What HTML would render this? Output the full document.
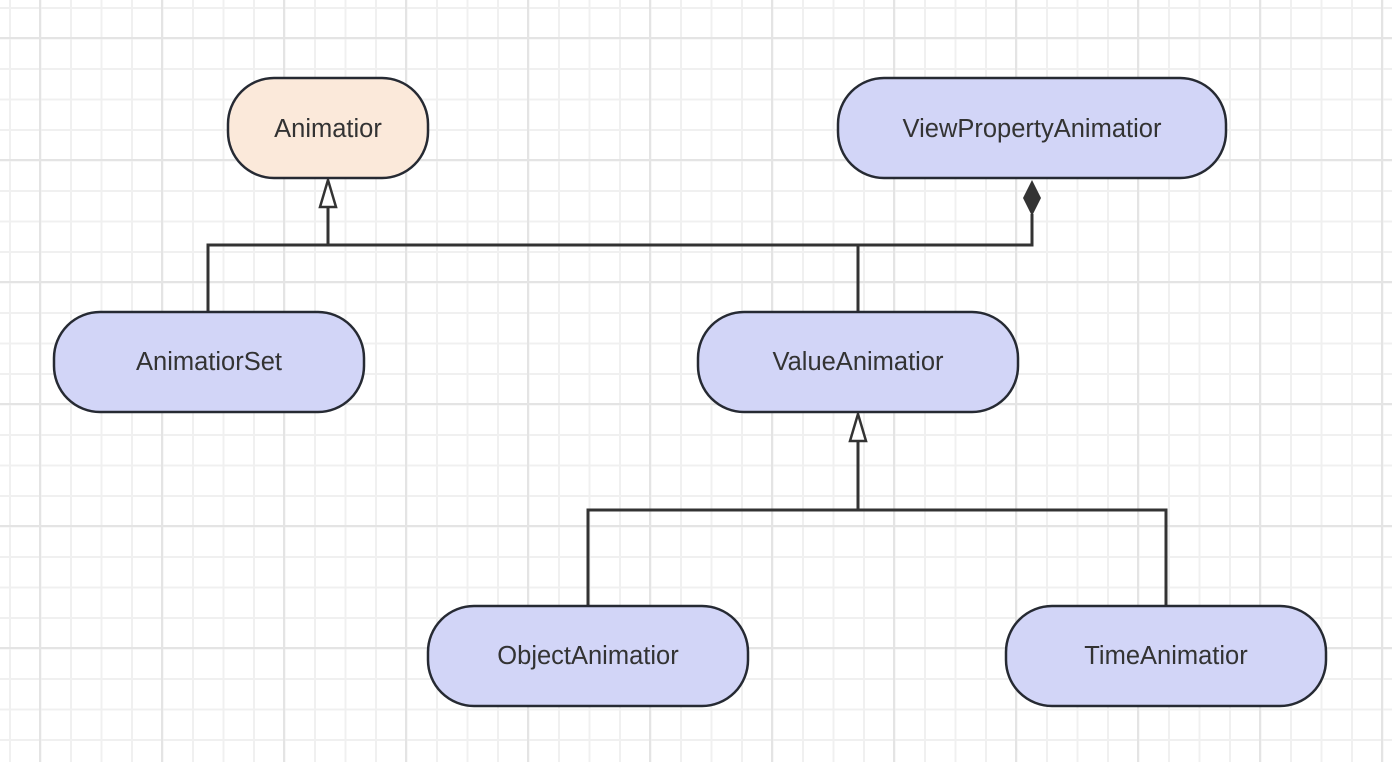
<!DOCTYPE html>
<html><head><style>
body{margin:0;width:1392px;height:762px;overflow:hidden;background:#fff;
background-image:
linear-gradient(#e4e4e4 2px,transparent 2px),linear-gradient(90deg,#e4e4e4 2px,transparent 2px),
linear-gradient(#f0f0f0 2px,transparent 2px),linear-gradient(90deg,#f0f0f0 2px,transparent 2px);
background-size:122px 122px,122px 122px,30.5px 30.5px,30.5px 30.5px;
background-position:0 37px,39px 0,0 7px,9px 0;}
svg{position:absolute;left:0;top:0}
text{font-family:"Liberation Sans",sans-serif;font-size:25.5px;fill:#333;text-anchor:middle;dominant-baseline:central}
</style></head><body>
<svg width="1392" height="762">
<g stroke="#333" stroke-width="3" fill="none">
<path d="M208 312V245H1032V214"/>
<path d="M328 245V206"/>
<path d="M858 245V312"/>
<path d="M588 606V510H1166V606"/>
<path d="M858 510V441"/>
</g>
<g stroke="#333" stroke-width="2.5" fill="#fff">
<path d="M328 180L320 207H336Z"/>
<path d="M858 414L850 441H866Z"/>
</g>
<path d="M1032 180L1041 198L1032 216L1023 198Z" fill="#333"/>
<g stroke="#262a33" stroke-width="2.5">
<rect x="228" y="78" width="200" height="100" rx="46" fill="#fbe9da"/>
<rect x="838" y="78" width="388" height="100" rx="46" fill="#d2d5f7"/>
<rect x="54" y="312" width="310" height="100" rx="46" fill="#d2d5f7"/>
<rect x="698" y="312" width="320" height="100" rx="46" fill="#d2d5f7"/>
<rect x="428" y="606" width="320" height="100" rx="46" fill="#d2d5f7"/>
<rect x="1006" y="606" width="320" height="100" rx="46" fill="#d2d5f7"/>
</g>
<text x="328" y="129">Animatior</text>
<text x="1032" y="129">ViewPropertyAnimatior</text>
<text x="209" y="362">AnimatiorSet</text>
<text x="858" y="362">ValueAnimatior</text>
<text x="588" y="656">ObjectAnimatior</text>
<text x="1166" y="656">TimeAnimatior</text>
</svg>
</body></html>
